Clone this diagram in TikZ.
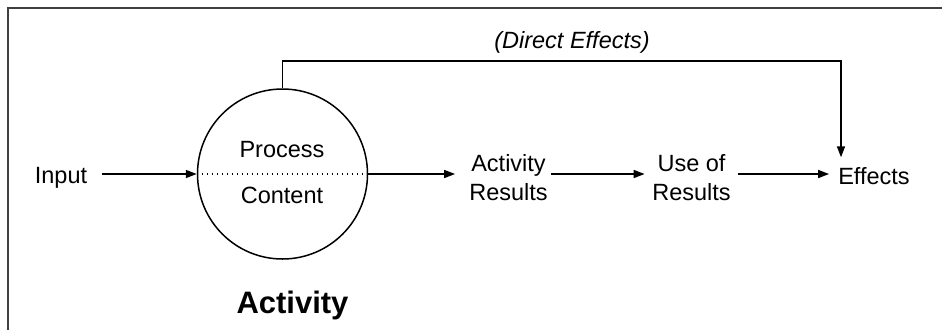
\documentclass[tikz,border=0pt]{standalone}
\usepackage{fontspec}
\setmainfont{Liberation Sans}
\usetikzlibrary{arrows.meta}
\begin{document}
\begin{tikzpicture}[x=1pt,y=-1pt,
  txt/.style={font=\fontsize{23.5}{28.5}\selectfont, inner sep=0pt, align=center},
  arr/.style={-{Triangle[length=11pt,width=8pt]}, line width=1.6pt},
  ]
\useasboundingbox (0,0) rectangle (942,330);
\draw[black!75, line width=2pt] (942,8) -- (8,8) -- (8,330);
\node[circle, draw, line width=1.5pt, minimum size=170pt, inner sep=0pt] (act) at (282.5,174) {};
\node[txt, anchor=base] (proc) at (282,157) {Process};
\node[txt, anchor=base] (cont) at (282,203) {Content};
\draw[line width=1.5pt, dash pattern=on 1.5pt off 3.5pt] (act.west) -- (act.east);
\node[txt, anchor=base] (input) at (61,183) {Input};
\node[txt] (ar) at (508.5,177.5) {Activity\\Results};
\node[txt] (ur) at (691.5,177.5) {Use of\\Results};
\node[txt, anchor=base] (eff) at (874,184.5) {Effects};
\node[font=\fontsize{31}{36}\selectfont\bfseries, inner sep=0pt, anchor=base] (lab) at (292.5,313) {Activity};
\node[txt, font=\fontsize{23.5}{28.5}\selectfont\itshape, anchor=base] (de) at (572,48) {(Direct Effects)};
\draw[arr, shorten <=15pt] (input.east |- act) -- (act.west);
\draw[arr, shorten >=14pt] (act.east) -- (act.east -| ar.west);
\draw[arr, shorten <=3pt, shorten >=7.5pt] (ar.east |- act) -- (ur.west |- act);
\draw[arr, shorten <=7pt, shorten >=9pt] (ur.east |- act) -- (eff.west |- act);
\coordinate (dc) at (841,61);
\draw[arr, shorten >=10pt] (act.north) |- (dc) -- (dc |- eff.north);
\end{tikzpicture}
\end{document}
